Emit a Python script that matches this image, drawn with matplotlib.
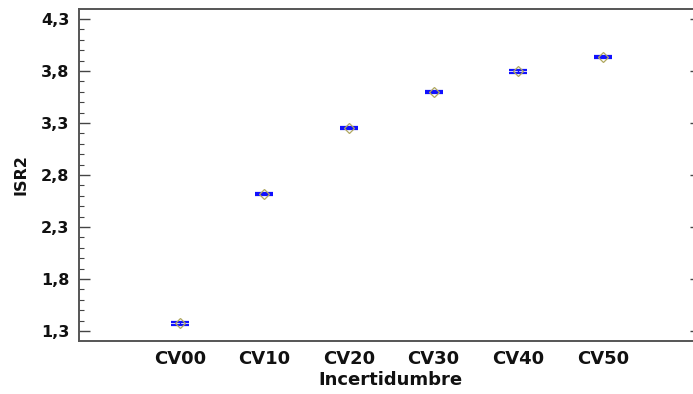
import matplotlib
matplotlib.use("Agg")
import matplotlib.pyplot as plt
from matplotlib.ticker import MultipleLocator, FixedLocator
import numpy as np

plt.rcParams['font.family'] = ['DejaVu Sans']

# Means of ISR2 by uncertainty level, with LSD interval half-widths
categories = ["CV00", "CV10", "CV20", "CV30", "CV40", "CV50"]
means = [1.373, 2.617, 3.252, 3.598, 3.796, 3.935]
half_width = [0.015, 0.006, 0.006, 0.006, 0.013, 0.012]
y_ticks = [1.3, 1.8, 2.3, 2.8, 3.3, 3.8, 4.3]
y_tick_labels = ["1,3", "1,8", "2,3", "2,8", "3,3", "3,8", "4,3"]

fig = plt.figure(figsize=(6.93, 3.94), dpi=100)
ax = fig.add_axes([79 / 693, 1 - 340.7 / 394, (701 - 79) / 693, (340.7 - 9.3) / 394])

x = np.arange(len(categories))
m = np.array(means)
h = np.array(half_width)
cap = 0.107

# interval caps and connecting stem
ax.hlines(m - h, x - cap, x + cap, color='#1010ff', lw=1.6, zorder=3)
ax.hlines(m + h, x - cap, x + cap, color='#1010ff', lw=1.6, zorder=3)
ax.vlines(x, m - h, m + h, color='#1010ff', lw=1.0, zorder=3)
# mean marker
ax.plot(x, m, linestyle='none', marker='D', markersize=5.5, markerfacecolor='none',
        markeredgecolor='#b0a860', markeredgewidth=0.9, zorder=4)

ax.set_xlim(-1.19, 6.16)
ax.set_ylim(1.207, 4.393)

ax.set_xticks(x)
ax.set_xticklabels(categories, fontsize=13, fontweight='bold', color='#111111')
ax.tick_params(axis='x', length=0, pad=7)

ax.yaxis.set_major_locator(FixedLocator(y_ticks))
ax.set_yticklabels(y_tick_labels, fontsize=11.5, fontweight='bold', color='#111111')
ax.yaxis.set_minor_locator(MultipleLocator(0.1))
ax.tick_params(axis='y', which='major', direction='in', length=8, width=1.0,
               color='#444444', pad=7, right=True)
ax.tick_params(axis='y', which='minor', direction='in', length=3.6, width=0.8,
               color='#444444', left=True, right=False)

for s in ax.spines.values():
    s.set_color('#555555')
    s.set_linewidth(1.4)

ax.set_xlabel("Incertidumbre", fontsize=13, fontweight='bold', labelpad=2, color='#111111')
ax.set_ylabel("ISR2", fontsize=11.5, fontweight='bold', labelpad=9, color='#111111')

fig.savefig("out.png", dpi=100)
